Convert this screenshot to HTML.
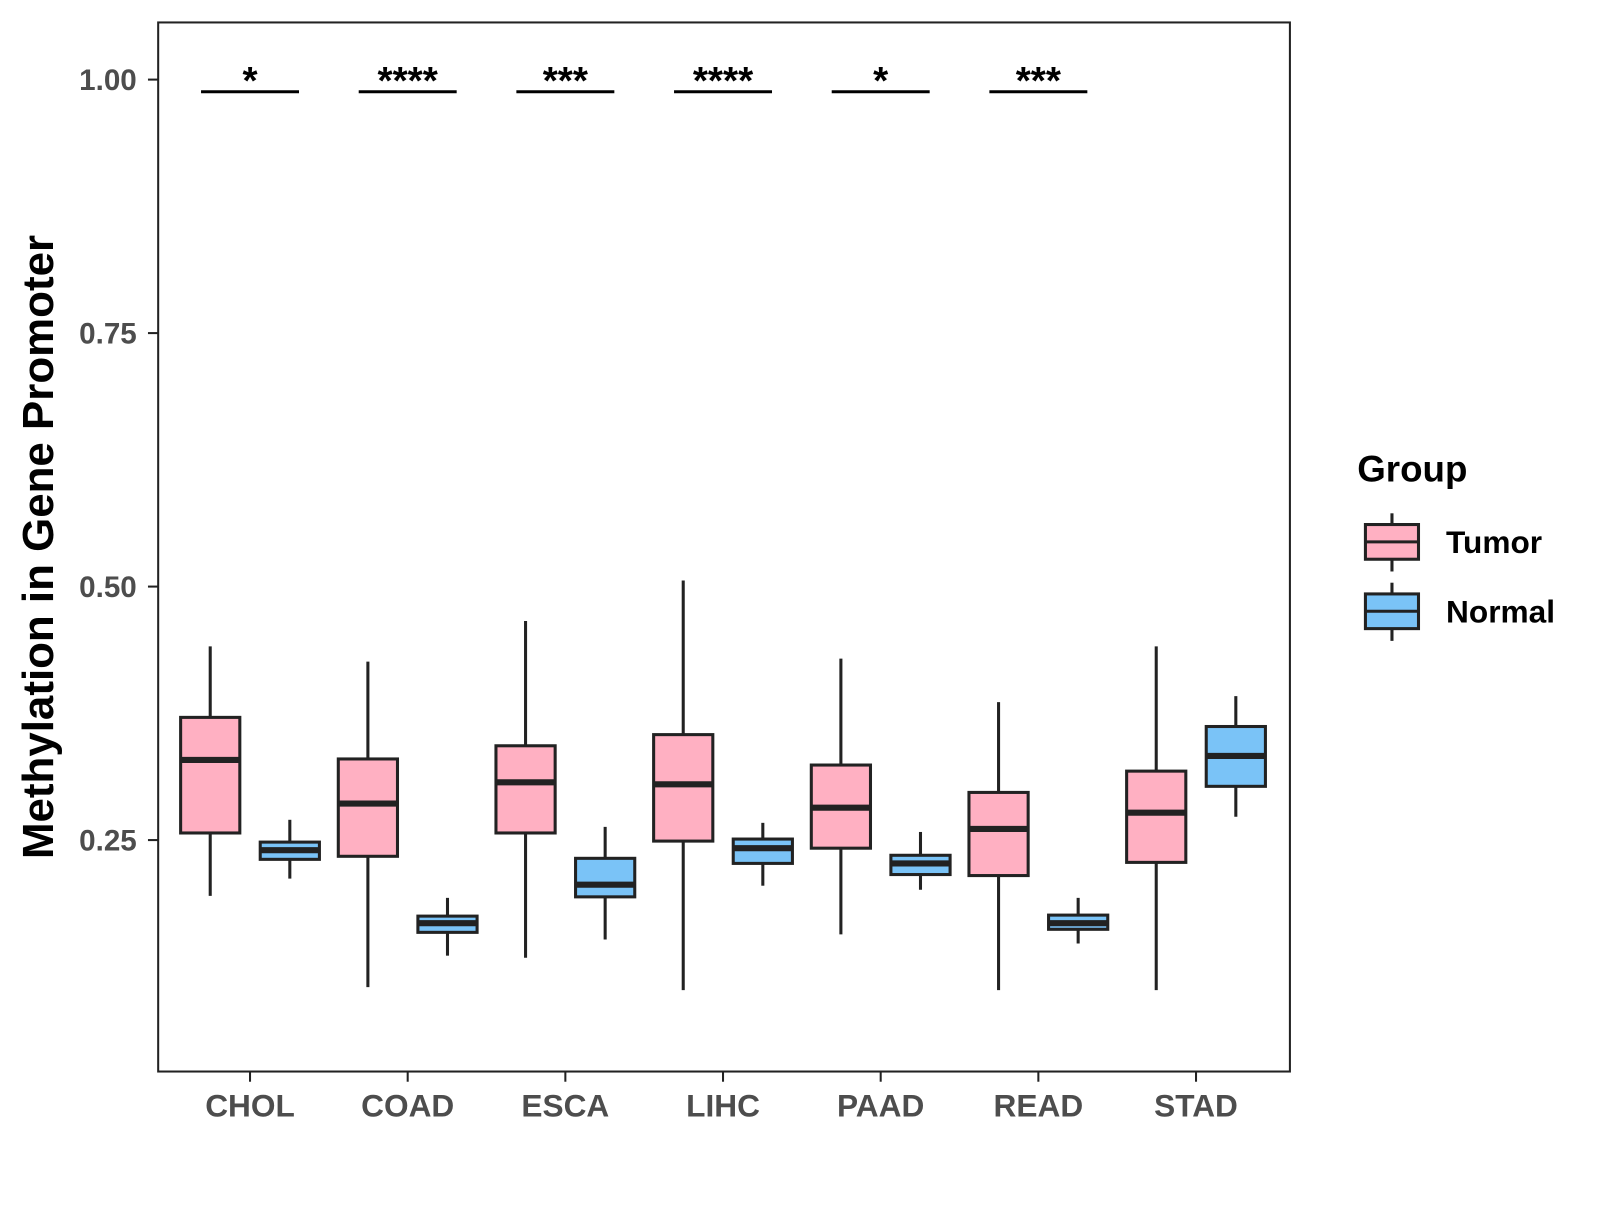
<!DOCTYPE html>
<html><head><meta charset="utf-8"><style>
body{margin:0;background:#fff;}
svg text{font-family:"Liberation Sans",Arial,sans-serif;font-weight:bold;}
</style></head><body>
<svg id="chart" width="1600" height="1200" viewBox="0 0 1600 1200">
<g transform="scale(1.0205)">
<rect x="155" y="22" width="1109" height="1028" fill="#fff" stroke="#222" stroke-width="2"/>
<g id="yaxis"></g>
<g id="xaxis"></g>
<g id="boxes"></g>
<g id="sig"></g>
<text x="52" y="536" font-size="43" fill="#000" text-anchor="middle" transform="rotate(-90 52 536)">Methylation in Gene Promoter</text>
<g>
<text x="1330" y="472" font-size="36" fill="#000">Group</text>
<g>
<line x1="1364" y1="503" x2="1364" y2="560" stroke="#222" stroke-width="3"/>
<rect x="1338" y="514" width="52" height="34" fill="#FFB0C2" stroke="#222" stroke-width="3"/>
<line x1="1338" y1="531" x2="1390" y2="531" stroke="#222" stroke-width="3"/>
<text x="1417" y="542" font-size="31" fill="#000">Tumor</text></g>
<g>
<line x1="1364" y1="571" x2="1364" y2="628" stroke="#222" stroke-width="3"/>
<rect x="1338" y="582" width="52" height="34" fill="#7AC3F7" stroke="#222" stroke-width="3"/>
<line x1="1338" y1="599" x2="1390" y2="599" stroke="#222" stroke-width="3"/>
<text x="1417" y="610" font-size="31" fill="#000">Normal</text></g>
</g>
</g>
</svg>
<script>
const categories=["CHOL","COAD","ESCA","LIHC","PAAD","READ","STAD"];
// [whiskerLow, q1, median, q3, whiskerHigh]
const tumorStats=[[0.195,0.257,0.329,0.371,0.441],[0.105,0.234,0.286,0.330,0.426],[0.134,0.257,0.307,0.343,0.466],[0.102,0.249,0.305,0.354,0.506],[0.157,0.242,0.282,0.324,0.429],[0.102,0.215,0.261,0.297,0.386],[0.102,0.228,0.277,0.318,0.441]];
const normalStats=[[0.212,0.231,0.240,0.248,0.270],[0.136,0.159,0.168,0.175,0.193],[0.152,0.194,0.206,0.232,0.263],[0.205,0.227,0.242,0.251,0.267],[0.201,0.216,0.227,0.235,0.258],[0.148,0.162,0.168,0.176,0.193],[0.273,0.303,0.333,0.362,0.392]];
const sigLabels=["*","****","***","****","*","***",""];
const yTicks=[0.25,0.50,0.75,1.00];
const yTickLabels=["0.25","0.50","0.75","1.00"];
const sigLevel=0.988;

const NS="http://www.w3.org/2000/svg";
function y(v){return 78+(1-v)*993.6;}
function x(i){return 245+i*154.5;}
function mk(tag,attrs,parent){const e=document.createElementNS(NS,tag);for(const k in attrs)e.setAttribute(k,attrs[k]);parent.appendChild(e);return e;}
const yax=document.getElementById('yaxis'),xax=document.getElementById('xaxis'),bx=document.getElementById('boxes'),sg=document.getElementById('sig');
yTicks.forEach((t,i)=>{
  const l=mk('line',{x1:145,x2:155,y1:y(t),y2:y(t),stroke:'#222','stroke-width':2},yax);
  
  
  const tx=mk('text',{x:134,y:y(t)+10,'font-size':29,fill:'#4d4d4d','text-anchor':'end'},yax);
  tx.textContent=yTickLabels[i];
  
  
});
function drawBox(cx,s,fill,name){
  const g=mk('g',{},bx);
  
  
  const w=58;
  mk('line',{x1:cx,x2:cx,y1:y(s[4]),y2:y(s[0]),stroke:'#222','stroke-width':3},g);
  mk('rect',{x:cx-w/2,y:y(s[3]),width:w,height:y(s[1])-y(s[3]),fill:fill,stroke:'#222','stroke-width':3},g);
  mk('line',{x1:cx-w/2,x2:cx+w/2,y1:y(s[2]),y2:y(s[2]),stroke:'#222','stroke-width':6},g);
}
categories.forEach((c,i)=>{
  const cx=x(i);
  const t=mk('line',{x1:cx,x2:cx,y1:1050,y2:1060,stroke:'#222','stroke-width':2},xax);
  
  
  const tx=mk('text',{x:cx,y:1094,'font-size':31,fill:'#4d4d4d','text-anchor':'middle'},xax);
  tx.textContent=c;
  
  
  drawBox(cx-39,tumorStats[i],'#FFB0C2','box-tumor-'+c.toLowerCase());
  drawBox(cx+39,normalStats[i],'#7AC3F7','box-normal-'+c.toLowerCase());
  if(sigLabels[i]){
    const ln=mk('line',{x1:cx-48,x2:cx+48,y1:y(sigLevel),y2:y(sigLevel),stroke:'#000','stroke-width':3},sg);
    
    
    const st=mk('text',{x:cx,y:y(sigLevel)+2,'font-size':38,fill:'#000','text-anchor':'middle'},sg);
    st.textContent=sigLabels[i];
    
    
  }
});
</script>
</body></html>
